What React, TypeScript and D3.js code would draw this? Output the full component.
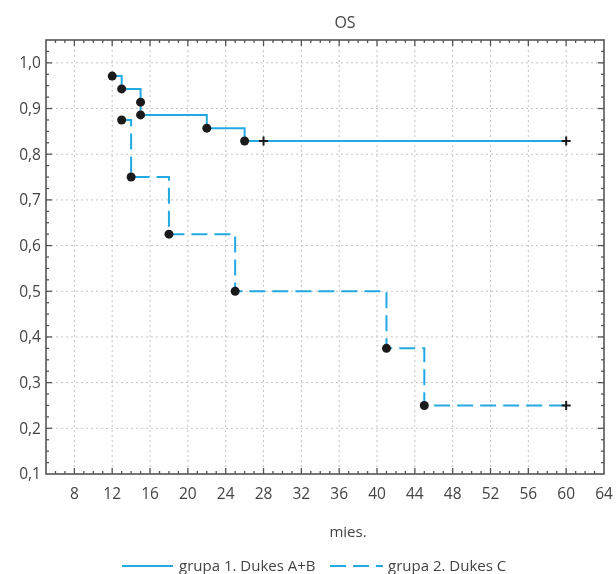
import React, { useEffect, useRef } from "react";
import * as d3 from "d3";

// group 1 (Dukes A+B)
const g1Times = [12, 13, 15, 15, 22, 26];
const g1Surv = [0.971, 0.943, 0.914, 0.886, 0.857, 0.829];
const g1Censored = [28, 60];
// group 2 (Dukes C)
const g2Times = [13, 14, 18, 25, 41, 45];
const g2Surv = [0.875, 0.75, 0.625, 0.5, 0.375, 0.25];
const g2Censored = [60];

const xTicks = [8, 12, 16, 20, 24, 28, 32, 36, 40, 44, 48, 52, 56, 60, 64];
const yTicks = [0.1, 0.2, 0.3, 0.4, 0.5, 0.6, 0.7, 0.8, 0.9, 1.0];
const legendLabels = ["grupa 1. Dukes A+B", "grupa 2. Dukes C"];

const FONT = "'Open Sans', 'Noto Sans', sans-serif";
const BLUE = "#22a9e1";
const DASH = "16,7";

export default function App() {
	const ref = useRef<HTMLDivElement>(null);

	useEffect(() => {
		const w = 616;
		const h = 574;
		const left = 46, right = 604, top = 40, bottom = 474;

		const x = d3.scaleLinear().domain([5, 64]).range([left, right]);
		const y = d3.scaleLinear().domain([0.1, 1.05]).range([bottom, top]);

		const svg = d3
			.select(ref.current)
			.html("")
			.append("svg")
			.attr("width", w)
			.attr("height", h)
			.style("display", "block")
			.style("font-family", FONT);

		// grid
		const grid = svg.append("g").attr("stroke", "#c4c4c4").attr("stroke-width", 1).attr("stroke-dasharray", "2,3");
		xTicks.filter(t => t < 64).forEach(t => {
			grid.append("line").attr("x1", x(t)).attr("x2", x(t)).attr("y1", top).attr("y2", bottom);
		});
		yTicks.filter(t => t > 0.1).forEach(t => {
			grid.append("line").attr("x1", left).attr("x2", right).attr("y1", y(t)).attr("y2", y(t));
		});

		// minor / major ticks, pointing inward on all four sides
		const ticks = svg.append("g").attr("stroke", "#555").attr("stroke-width", 1.3);
		d3.range(6, 64).forEach(t => {
			const len = t % 4 === 0 ? 6 : 3;
			ticks.append("line").attr("x1", x(t)).attr("x2", x(t)).attr("y1", bottom).attr("y2", bottom - len);
			ticks.append("line").attr("x1", x(t)).attr("x2", x(t)).attr("y1", top).attr("y2", top + len);
		});
		d3.range(1, 38).forEach(i => {
			const v = 0.1 + i * 0.025;
			const len = i % 4 === 0 ? 6 : 3;
			ticks.append("line").attr("x1", left).attr("x2", left + len).attr("y1", y(v)).attr("y2", y(v));
			ticks.append("line").attr("x1", right).attr("x2", right - len).attr("y1", y(v)).attr("y2", y(v));
		});

		// frame
		svg.append("rect")
			.attr("x", left).attr("y", top)
			.attr("width", right - left).attr("height", bottom - top)
			.attr("fill", "none").attr("stroke", "#555").attr("stroke-width", 1.6);

		// tick labels
		const fmt = (d: number) => d3.format(".1f")(d).replace(".", ",");
		svg.append("g").selectAll("text").data(yTicks).join("text")
			.attr("x", left - 5).attr("y", d => y(d)).attr("dy", "0.35em")
			.attr("text-anchor", "end").attr("font-size", 15.5).attr("fill", "#444")
			.text(d => fmt(d));
		svg.append("g").selectAll("text").data(xTicks).join("text")
			.attr("x", d => x(d)).attr("y", bottom + 20).attr("dy", "0.35em")
			.attr("text-anchor", "middle").attr("font-size", 15.5).attr("fill", "#444")
			.text(d => d);

		// title and axis label
		svg.append("text").attr("x", 345).attr("y", 28).attr("text-anchor", "middle")
			.attr("font-size", 16).attr("fill", "#444").text("OS");
		svg.append("text").attr("x", 348).attr("y", 537).attr("text-anchor", "middle")
			.attr("font-size", 15).attr("fill", "#444").text("mies.");

		const line = d3.line<[number, number]>()
			.x(d => x(d[0]))
			.y(d => y(d[1]))
			.curve(d3.curveStepAfter);

		const groups = [
			{ times: g1Times, surv: g1Surv, cens: g1Censored, dash: null },
			{ times: g2Times, surv: g2Surv, cens: g2Censored, dash: DASH },
		];

		groups.forEach(g => {
			const pts: [number, number][] = g.times.map((t, i) => [t, g.surv[i]]);
			const last = g.surv[g.surv.length - 1];
			pts.push([d3.max(g.cens) as number, last]);
			svg.append("path")
				.datum(pts)
				.attr("fill", "none")
				.attr("stroke", BLUE)
				.attr("stroke-width", 2)
				.attr("stroke-dasharray", g.dash)
				.attr("d", line);
		});

		groups.forEach(g => {
			const last = g.surv[g.surv.length - 1];
			svg.append("g").selectAll("circle").data(g.times).join("circle")
				.attr("cx", d => x(d)).attr("cy", (d, i) => y(g.surv[i]))
				.attr("r", 4.5).attr("fill", "#1a1a1a");
			const cross = svg.append("g").attr("stroke", "#1a1a1a").attr("stroke-width", 2);
			g.cens.forEach(t => {
				cross.append("line").attr("x1", x(t) - 4.5).attr("x2", x(t) + 4.5).attr("y1", y(last)).attr("y2", y(last));
				cross.append("line").attr("x1", x(t)).attr("x2", x(t)).attr("y1", y(last) - 4.5).attr("y2", y(last) + 4.5);
			});
		});

		// legend
		const ly = 566;
		const legend = svg.append("g");
		legend.append("line").attr("x1", 122).attr("x2", 173).attr("y1", ly).attr("y2", ly)
			.attr("stroke", BLUE).attr("stroke-width", 2);
		legend.append("text").attr("x", 179).attr("y", ly).attr("dy", "0.35em")
			.attr("font-size", 15).attr("fill", "#444").text(legendLabels[0]);
		legend.append("line").attr("x1", 330).attr("x2", 383).attr("y1", ly).attr("y2", ly)
			.attr("stroke", BLUE).attr("stroke-width", 2).attr("stroke-dasharray", DASH);
		legend.append("text").attr("x", 388).attr("y", ly).attr("dy", "0.35em")
			.attr("font-size", 15).attr("fill", "#444").text(legendLabels[1]);
	}, []);

	return <div ref={ref} style={{ position: "fixed", top: 0, left: 0 }}></div>;
}
